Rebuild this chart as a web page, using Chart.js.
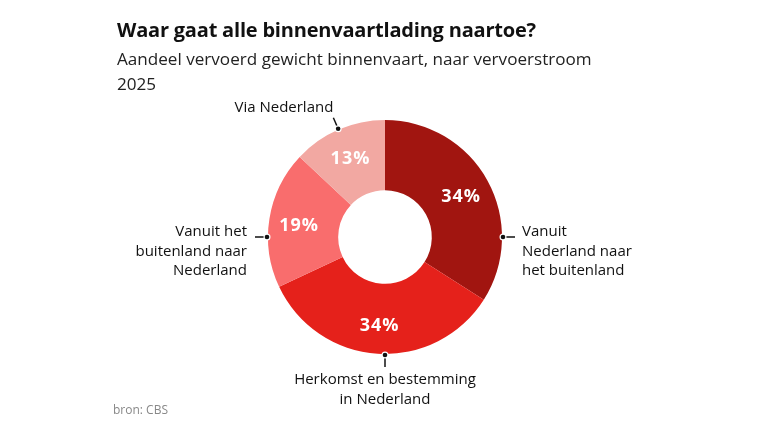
<!DOCTYPE html>
<html>
<head>
<meta charset="utf-8">
<script src="https://cdn.jsdelivr.net/npm/chart.js@4"></script>
<style>
  html, body { margin: 0; padding: 0; background: #fff; }
  #wrap { position: relative; width: 768px; height: 432px; overflow: hidden; font-family: "Open Sans", sans-serif; }
  #chart { position: absolute; left: 0; top: 0; }
  .title { position: absolute; left: 117px; top: 16px; font-size: 20px; font-weight: 700; color: #111; letter-spacing: -0.2px; }
  .sub { position: absolute; left: 117px; top: 46px; font-size: 17.1px; color: #222; line-height: 25px; }
  .src { position: absolute; left: 113px; top: 401px; font-size: 12px; color: #888; }
</style>
</head>
<body>
<div id="wrap">
  <canvas id="chart" width="768" height="432"></canvas>
  <div class="title">Waar gaat alle binnenvaartlading naartoe?</div>
  <div class="sub">Aandeel vervoerd gewicht binnenvaart, naar vervoerstroom<br>2025</div>
  <div class="src">bron: CBS</div>
</div>
<script>
// =========== data
const categories = [
    ["Vanuit", "Nederland naar", "het buitenland"],
    ["Herkomst en bestemming", "in Nederland"],
    ["Vanuit het", "buitenland naar", "Nederland"],
    ["Via Nederland"],
];
const shares = [34, 34, 19, 13];
const sliceColors = ["#A11510", "#E5211B", "#F96D6D", "#F2A8A2"];

// =========== labels drawn from the arc geometry
const calloutPlugin = {
    id: "callouts",
    afterDatasetsDraw(chart) {
        const ctx = chart.ctx;
        const meta = chart.getDatasetMeta(0);
        meta.data.forEach((arc, i) => {
            const p = arc.getProps(["x", "y", "startAngle", "endAngle", "outerRadius", "innerRadius"], true);
            const mid = (p.startAngle + p.endAngle) / 2;

            // percentage inside the ring
            const rIn = (p.outerRadius + p.innerRadius) / 2 + 5;
            ctx.save();
            ctx.fillStyle = "#fff";
            ctx.font = "700 18px 'Open Sans'";
            ctx.letterSpacing = "1px";
            ctx.textAlign = "center";
            ctx.textBaseline = "middle";
            ctx.fillText(shares[i] + "%", p.x + Math.cos(mid) * rIn, p.y + Math.sin(mid) * rIn + 2);
            ctx.letterSpacing = "0px";

            // anchor: cardinal direction inside the slice, else middle of slice
            let anchor = mid;
            for (const c of [0, Math.PI / 2, Math.PI]) {
                if (c > p.startAngle + 0.05 && c < p.endAngle - 0.05) { anchor = c; break; }
            }
            const dx = Math.cos(anchor), dy = Math.sin(anchor);
            const x0 = p.x + dx * (p.outerRadius + 1), y0 = p.y + dy * (p.outerRadius + 1);
            const x1 = p.x + dx * (p.outerRadius + 13), y1 = p.y + dy * (p.outerRadius + 13);

            ctx.strokeStyle = "#111";
            ctx.lineWidth = 1.5;
            ctx.beginPath();
            ctx.moveTo(x0, y0);
            ctx.lineTo(x1, y1);
            ctx.stroke();
            ctx.beginPath();
            ctx.arc(x0, y0, 3.5, 0, Math.PI * 2);
            ctx.fillStyle = "#fff";
            ctx.fill();
            ctx.beginPath();
            ctx.arc(x0, y0, 2.3, 0, Math.PI * 2);
            ctx.fillStyle = "#111";
            ctx.fill();

            // text
            const lines = categories[i];
            const lh = 19.5;
            ctx.font = "400 15px 'Open Sans'";
            ctx.fillStyle = "#111";
            ctx.textBaseline = "middle";
            let tx = x1, ty;
            if (dx > 0.3) { ctx.textAlign = "left"; tx = x1 + 7; }
            else if (dx < -0.3) { ctx.textAlign = "right"; tx = x1 - (dy < -0.3 ? 0 : 8); }
            else { ctx.textAlign = "center"; }
            if (dy > 0.3) ty = y1 + 13;
            else if (dy < -0.3) ty = y1 - 10 - (lines.length - 1) * lh;
            else ty = y1 - 5;
            lines.forEach((ln, k) => ctx.fillText(ln, tx, ty + k * lh));
            ctx.restore();
        });
    },
};

const ctx1 = document.getElementById("chart").getContext("2d");
const chart1 = new Chart(ctx1, {
    type: "doughnut",
    data: {
        labels: categories,
        datasets: [
            {
                data: shares,
                backgroundColor: sliceColors,
                borderWidth: 0,
            },
        ],
    },
    options: {
        responsive: false,
        animation: false,
        cutout: "40%",
        layout: {
            padding: { top: 120, bottom: 78, left: 2, right: 0 },
        },
        plugins: {
            legend: { display: false },
            tooltip: { enabled: false },
            title: { display: false },
        },
    },
    plugins: [calloutPlugin],
});
</script>
</body>
</html>
